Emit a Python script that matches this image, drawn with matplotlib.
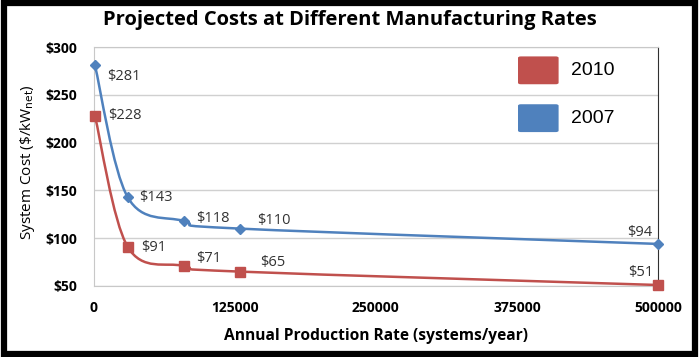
import numpy as np
import matplotlib
matplotlib.use("Agg")
import matplotlib.pyplot as plt
from matplotlib.path import Path
from matplotlib.patches import PathPatch, FancyBboxPatch, Rectangle

# production rates (systems/year) and projected system cost ($/kWnet)
rates = [1000, 30000, 80000, 130000, 500000]
cost_2007 = [281, 143, 118, 110, 94]
cost_2010 = [228, 91, 71, 65, 51]
x_ticks = [0, 125000, 250000, 375000, 500000]
y_ticks = [50, 100, 150, 200, 250, 300]

RED = '#C0504D'
BLUE = '#4F81BD'
plt.rcParams['font.family'] = ['Open Sans', 'DejaVu Sans']


def smooth_path(xs, ys):
    # Excel-style smoothed line: Catmull-Rom segments as cubic Beziers
    pts = np.column_stack([xs, ys]).astype(float)
    n = len(pts)
    verts = [pts[0]]
    codes = [Path.MOVETO]
    for i in range(n - 1):
        p0 = pts[i - 1] if i > 0 else pts[i]
        p1 = pts[i]
        p2 = pts[i + 1]
        p3 = pts[i + 2] if i + 2 < n else pts[i + 1]
        c1 = p1 + (p2 - p0) / 6.0
        c2 = p2 - (p3 - p1) / 6.0
        verts += [c1, c2, p2]
        codes += [Path.CURVE4] * 3
    return Path(verts, codes)


fig = plt.figure(figsize=(7, 3.57), dpi=100)
ax = fig.add_axes([0.134, 0.199, 0.806, 0.669])

ax.add_patch(PathPatch(smooth_path(rates, cost_2007), fill=False,
                       edgecolor=BLUE, lw=1.8, zorder=3))
ax.add_patch(PathPatch(smooth_path(rates, cost_2010), fill=False,
                       edgecolor=RED, lw=1.8, zorder=3))
ax.plot(rates, cost_2007, ls='none', marker='D', ms=5, color=BLUE, zorder=4,
        clip_on=False)
ax.plot(rates, cost_2010, ls='none', marker='s', ms=7, color=RED, zorder=4,
        clip_on=False)

# data labels, offsets in pixels
lab_off_2007 = [(12, -11), (11, 0), (12, 2), (17, 8), (-6, 11)]
lab_off_2010 = [(13, 0), (13, -1), (12, 7), (20, 9), (-5, 13)]
for xs, ys, offs in ((rates, cost_2007, lab_off_2007), (rates, cost_2010, lab_off_2010)):
    for xv, yv, (dx, dy) in zip(xs, ys, offs):
        ha = 'left' if dx > 0 else 'right'
        ax.annotate('$%d' % yv, (xv, yv), xytext=(dx, dy), textcoords='offset pixels',
                    ha=ha, va='center', fontsize=10.5, color='#333333')

ax.set_xlim(0, 500000)
ax.set_ylim(50, 300)
ax.set_xticks(x_ticks)
ax.set_xticklabels([str(t) for t in x_ticks], fontsize=10, fontweight='bold')
ax.set_yticks(y_ticks)
ax.set_yticklabels(['$%d' % t for t in y_ticks], fontsize=10, fontweight='bold')
ax.tick_params(axis='x', length=0, pad=11)
ax.tick_params(axis='y', length=0, pad=12)
ax.grid(axis='y', color='#D0D0D0', lw=1)
ax.set_axisbelow(True)
for s in ('top', 'left', 'bottom'):
    ax.spines[s].set_color('#C8C8C8')
ax.spines['right'].set_color('#303030')

ax.set_xlabel('Annual Production Rate (systems/year)', fontsize=11.2,
              fontweight='bold')
ax.xaxis.set_label_coords(0.5, -0.175)
ax.set_ylabel(r'System Cost (\$/kW$_{\rm net}$)', fontsize=11)
ax.yaxis.set_label_coords(-0.1, 0.52)
fig.text(0.5, 0.943, 'Projected Costs at Different Manufacturing Rates',
         ha='center', va='center', fontsize=14.5, fontweight='bold')

# legend drawn as big rounded squares
for label, col, yc in (('2010', RED, 0.802), ('2007', BLUE, 0.668)):
    fig.patches.append(FancyBboxPatch((0.740, yc - 0.038), 0.058, 0.078,
                                      boxstyle='round,pad=0,rounding_size=0.004',
                                      transform=fig.transFigure, facecolor=col,
                                      edgecolor='none', zorder=5))
    fig.text(0.815, yc, label, ha='left', va='center', fontsize=14,
             family=['Liberation Sans', 'DejaVu Sans'])

# thick frame round the picture
fig.patches.append(Rectangle((0.006, 0.009), 0.987, 0.983, transform=fig.transFigure,
                             fill=False, edgecolor='black', lw=4.5, zorder=10))

fig.savefig('out.png', dpi=100)
